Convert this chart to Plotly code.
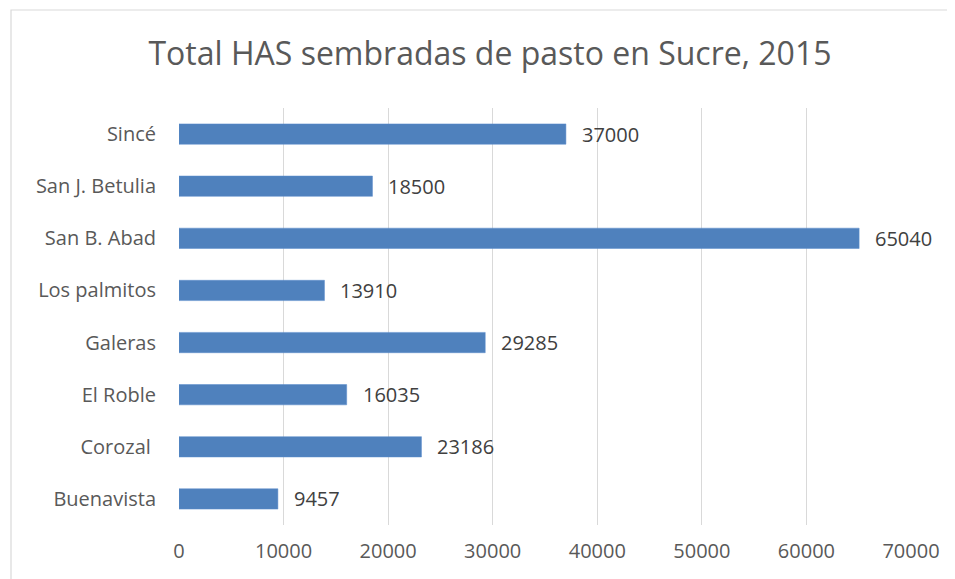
import plotly.graph_objects as go

categories = ["Buenavista", "Corozal\u00a0", "El Roble", "Galeras", "Los palmitos",
              "San B. Abad", "San J. Betulia", "Sincé"]
values = [9457, 23186, 16035, 29285, 13910, 65040, 18500, 37000]
x_ticks = [0, 10000, 20000, 30000, 40000, 50000, 60000, 70000]

OFF = 8  # default page body margin
W, H = 955 - OFF, 579 - OFF
L, T = 179 - OFF, 108 - OFF
R = W - (911 - OFF)
B = H - (525 - OFF)
pw, ph = W - L - R, H - T - B

fig = go.Figure()
fig.add_trace(go.Bar(
    y=categories, x=values, orientation="h",
    marker=dict(color="#4f81bd", line=dict(color="#5b8ccc", width=0.5)),
    width=0.39, hoverinfo="x+y",
))

for c, v in zip(categories, values):
    fig.add_annotation(x=v, y=c, text=str(v), showarrow=False, xanchor="left",
                       xshift=14, font=dict(family="Open Sans", size=20, color="#404040"))

# chart border (page coords -> paper coords)
fig.add_shape(type="rect", xref="paper", yref="paper",
              x0=(11 - OFF - L) / pw, x1=(950 - OFF - L) / pw,
              y0=-0.4, y1=(H - B - (10 - OFF)) / ph,
              line=dict(color="#d9d9d9", width=1.2), fillcolor="rgba(0,0,0,0)", layer="below")

fig.update_layout(
    width=W, height=H,
    margin=dict(l=L, r=R, t=T, b=B, pad=0),
    paper_bgcolor="white", plot_bgcolor="white",
    title=dict(text="Total HAS sembradas de pasto en Sucre, 2015",
               x=(490 - OFF) / W, xanchor="center", xref="container",
               y=1 - (54 - OFF) / H, yanchor="middle", yref="container",
               font=dict(family="Open Sans", size=32, color="#595959")),
    xaxis=dict(range=[0, 70000], tickvals=x_ticks, ticktext=[str(t) for t in x_ticks],
               showgrid=True, gridcolor="#d9d9d9", gridwidth=1.3, zeroline=False,
               showline=False, ticks="", ticklabelstandoff=12,
               tickfont=dict(family="Open Sans", size=20, color="#595959")),
    yaxis=dict(categoryorder="array", categoryarray=categories, showgrid=False,
               showline=False, ticks="", ticklabelstandoff=22,
               tickfont=dict(family="Open Sans", size=20, color="#595959")),
    showlegend=False,
)

fig.write_html("out.html")
